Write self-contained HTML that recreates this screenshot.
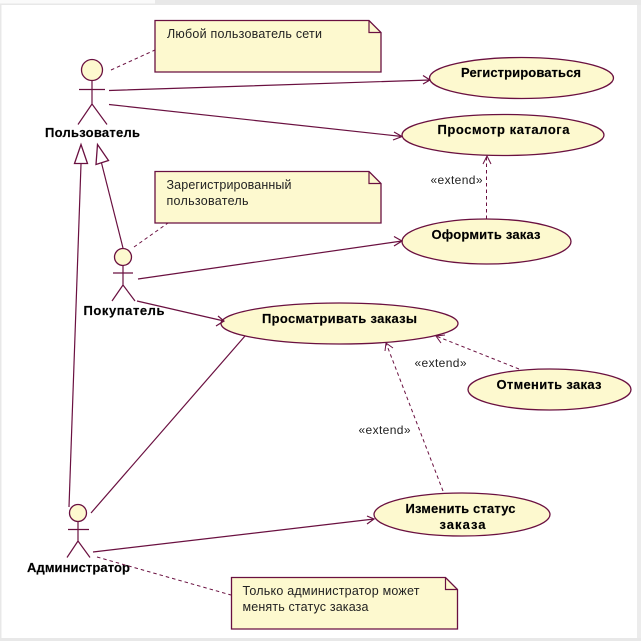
<!DOCTYPE html>
<html><head><meta charset="utf-8"><style>
html,body{margin:0;padding:0;background:#fff}
svg{display:block}
text{font-family:"Liberation Sans",sans-serif;fill:#000}
.b{font-weight:bold;font-size:13px;stroke:#000;stroke-width:.15px}
.n{font-size:12.5px;fill:#222}
.e{font-size:12px;fill:#222}
.s{fill:none;stroke:#6a1040;stroke-width:1.2}
.d{fill:none;stroke:#6a1040;stroke-width:1;stroke-dasharray:3.5 3}
.h{fill:none;stroke:#6a1040;stroke-width:1}
.f{fill:#fdf9cf;stroke:#6a1040;stroke-width:1.3}
</style></head><body>
<svg width="641" height="641" viewBox="0 0 641 641" xmlns="http://www.w3.org/2000/svg">
<rect width="641" height="641" fill="#fff"/>
<rect x="0" y="0" width="641" height="5" fill="#e8e8e8"/>
<rect x="0" y="0" width="155" height="3.5" fill="#fafafa"/>
<rect x="0" y="5" width="1.5" height="636" fill="#e8e8e8"/>
<rect x="637" y="5" width="4" height="636" fill="#ececec"/>
<rect x="0" y="638" width="641" height="3" fill="#e8e8e8"/>

<path class="f" d="M155 20.500H369L381 32.500V72H155Z"/><path class="s" d="M369 20.500V32.500H381"/>
<path class="f" d="M155 171.500H369L381 183.500V223H155Z"/><path class="s" d="M369 171.500V183.500H381"/>
<path class="f" d="M231.500 577.500H445.500L457.500 589.500V629H231.500Z"/><path class="s" d="M445.500 577.500V589.500H457.500"/>
<text class="n" x="167" y="38" textLength="155">Любой пользователь сети</text>
<text class="n" x="166.500" y="189" textLength="125">Зарегистрированный</text>
<text class="n" x="166.500" y="205" textLength="82">пользователь</text>
<text class="n" x="242.500" y="595" textLength="177">Только администратор может</text>
<text class="n" x="242.500" y="611" textLength="126">менять статус заказа</text>

<ellipse class="f" cx="521.500" cy="78" rx="92" ry="20.500"/>
<ellipse class="f" cx="503" cy="135" rx="101" ry="20.500"/>
<ellipse class="f" cx="486.500" cy="241.500" rx="84.500" ry="22.500"/>
<ellipse class="f" cx="339.500" cy="323.500" rx="118.500" ry="20.500"/>
<ellipse class="f" cx="549.500" cy="389.500" rx="81.500" ry="20.500"/>
<ellipse class="f" cx="462" cy="514.500" rx="88" ry="21.500"/>
<text class="b" x="461" y="77" textLength="120">Регистрироваться</text>
<text class="b" x="437.500" y="134" textLength="132">Просмотр каталога</text>
<text class="b" x="431.500" y="239" textLength="109">Оформить заказ</text>
<text class="b" x="262" y="323" textLength="155">Просматривать заказы</text>
<text class="b" x="496.500" y="389" textLength="105">Отменить заказ</text>
<text class="b" x="405.500" y="513" textLength="110">Изменить статус</text>
<text class="b" x="439.500" y="529" textLength="46">заказа</text>

<!-- actors -->
<circle class="f" cx="92" cy="70" r="10.500"/>
<path class="s" d="M79 89.500H105M92 80.500V104M92 104L78 124.500M92 104L107 124.500"/>
<text class="b" x="45" y="137" textLength="95">Пользователь</text>
<circle class="f" cx="123" cy="257" r="8.500"/>
<path class="s" d="M113 273H133M123 265.500V285M123 285L112 301M123 285L135 301"/>
<text class="b" x="83.500" y="315" textLength="81">Покупатель</text>
<circle class="f" cx="78" cy="513" r="8.500"/>
<path class="s" d="M68 529.500H89M78 521.500V541M78 541L67 557.500M78 541L90 557.500"/>
<text class="b" x="27" y="572" textLength="103">Администратор</text>

<!-- associations -->
<path class="s" d="M109 90.500L430 80M423 75.500L430 80L423 84"/>
<path class="s" d="M109 104.500L402 136.500M394 132L402 136.500L393 140"/>
<path class="s" d="M138 279L402 241M394 236.500L402 241L394 246"/>
<path class="s" d="M137 301L224 321M218 316L224 321L216 326"/>
<path class="s" d="M91 513L245 336"/>
<path class="s" d="M93 552L374 519M367 516L374 519L367 524"/>

<!-- generalization -->
<path class="s" d="M69 507L81 164"/>
<path class="f" style="fill:#fff" d="M81 144.500L87.500 163.500H74.500Z"/>
<path class="s" d="M123 248L101.500 163"/>
<path class="f" style="fill:#fff" d="M97.500 144.500L108.500 160.500L96 164.500Z"/>

<!-- dashed -->
<path class="d" d="M111 70L155 50"/>
<path class="d" d="M134 247L168 223"/>
<path class="d" d="M97 557L231 595"/>
<path class="d" d="M486.500 219V156"/><path class="h" d="M483 164L487 156L491 164"/>
<path class="d" d="M519 369L436 336"/><path class="h" d="M441 343L436 336L445 335"/>
<path class="d" d="M443 491L386 343"/><path class="h" d="M385 351L386 343L393 348"/>
<text class="e" x="430.500" y="184" textLength="52">«extend»</text>
<text class="e" x="414.500" y="367" textLength="52">«extend»</text>
<text class="e" x="358.500" y="434" textLength="52">«extend»</text>
</svg>
</body></html>
